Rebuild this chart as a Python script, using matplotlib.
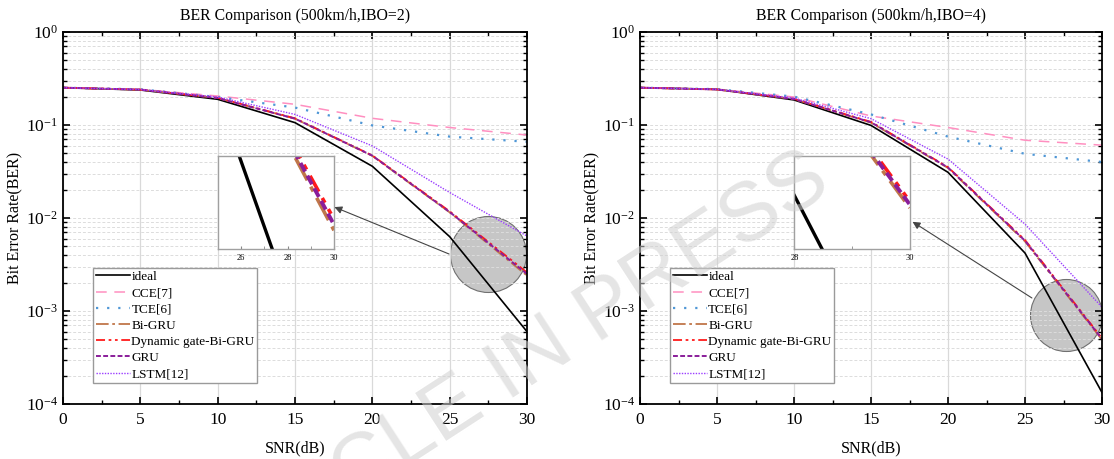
import matplotlib
matplotlib.use("Agg")
import matplotlib.pyplot as plt
from matplotlib.ticker import MultipleLocator, LogLocator, NullFormatter, NullLocator

plt.rcParams['font.family'] = ['Liberation Serif', 'DejaVu Serif']
plt.rcParams['mathtext.fontset'] = 'stix'

snr = [0, 5, 10, 15, 20, 25, 30]

# IBO = 2
ideal2 = [0.252, 0.238, 0.189, 0.106, 0.036, 0.0063, 6.0e-4]
cce2 = [0.252, 0.242, 0.205, 0.167, 0.118, 0.094, 0.078]
tce2 = [0.252, 0.242, 0.200, 0.154, 0.099, 0.075, 0.066]
bigru2 = [0.252, 0.240, 0.195, 0.117, 0.0466, 0.0115, 0.0024]
dyn2 = [0.252, 0.240, 0.196, 0.118, 0.0470, 0.0118, 0.0026]
gru2 = [0.252, 0.240, 0.195, 0.117, 0.0468, 0.0116, 0.0025]
lstm2 = [0.252, 0.241, 0.200, 0.130, 0.0596, 0.0188, 0.0064]

# IBO = 4
ideal4 = [0.252, 0.242, 0.186, 0.099, 0.031, 0.0042, 1.33e-4]
cce4 = [0.252, 0.243, 0.200, 0.125, 0.094, 0.0686, 0.0607]
tce4 = [0.252, 0.243, 0.202, 0.130, 0.075, 0.049, 0.040]
bigru4 = [0.252, 0.241, 0.190, 0.106, 0.0345, 0.0056, 4.9e-4]
dyn4 = [0.252, 0.241, 0.191, 0.108, 0.0352, 0.0058, 5.1e-4]
gru4 = [0.252, 0.241, 0.190, 0.107, 0.0349, 0.0057, 5.0e-4]
lstm4 = [0.252, 0.242, 0.195, 0.117, 0.043, 0.0086, 1.1e-3]

labels = ["ideal", "CCE[7]", "TCE[6]", "Bi-GRU", "Dynamic gate-Bi-GRU", "GRU", "LSTM[12]"]
styles = [
    dict(color="black", linestyle="-", linewidth=1.2),
    dict(color="#ff8fc0", linestyle=(0, (7, 5)), linewidth=1.1),
    dict(color="#4f97d6", linestyle=(0, (1, 4)), linewidth=1.6),
    dict(color="#c0764a", linestyle=(0, (7, 2, 1.5, 2)), linewidth=1.3),
    dict(color="#ff1a1a", linestyle=(0, (5, 2, 1.5, 2, 1.5, 2)), linewidth=1.3),
    dict(color="#8a1d9a", linestyle=(0, (2.5, 1.2)), linewidth=1.4),
    dict(color="#9b3dff", linestyle=(0, (1, 1)), linewidth=1.0),
]

panels = [
    dict(title="BER Comparison (500km/h,IBO=2)",
         series=[ideal2, cce2, tce2, bigru2, dyn2, gru2, lstm2],
         rect=[63 / 1114, 55 / 459, 464 / 1114, 372 / 459],
         inset_x=(25, 30), inset_ticks=[26, 28, 30], inset_y=(2.1e-3, 4.1e-3),
         circle=(27.5, 4.1e-3), circle_px=76,
         arrow_tip=(17.55, 0.0131), arrow_start=(24.96, 4.1e-3)),
    dict(title="BER Comparison (500km/h,IBO=4)",
         series=[ideal4, cce4, tce4, bigru4, dyn4, gru4, lstm4],
         rect=[640 / 1114, 55 / 459, 462 / 1114, 372 / 459],
         inset_x=(28, 30), inset_ticks=[28, 30], inset_y=(3.8e-4, 6.76e-4),
         circle=(27.66, 9.1e-4), circle_px=72,
         arrow_tip=(17.7, 9.1e-3), arrow_start=(25.45, 1.38e-3)),
]

fig = plt.figure(figsize=(11.14, 4.59), dpi=100)

for p in panels:
    ax = fig.add_axes(p["rect"])
    for vals, lab, st in zip(p["series"], labels, styles):
        ax.plot(snr, vals, label=lab, **st)
    ax.set_yscale("log")
    ax.set_xlim(0, 30)
    ax.set_ylim(1e-4, 1)
    ax.xaxis.set_major_locator(MultipleLocator(5))
    ax.xaxis.set_minor_locator(MultipleLocator(2.5))
    ax.yaxis.set_major_locator(LogLocator(base=10, numticks=10))
    ax.yaxis.set_minor_locator(LogLocator(base=10, subs=range(2, 10), numticks=20))
    ax.yaxis.set_minor_formatter(NullFormatter())
    ax.tick_params(which="both", direction="in", top=True, right=True, labelsize=12.5)
    ax.tick_params(axis="x", which="major", pad=6)
    ax.tick_params(which="major", length=5, width=1.2)
    ax.tick_params(which="minor", length=3, width=1.0)
    ax.grid(True, axis="x", which="major", color="#d9d9d9", linestyle="-", linewidth=0.9)
    ax.grid(True, axis="y", which="both", color="#dcdcdc", linestyle=(0, (3, 2)), linewidth=0.7)
    for s in ax.spines.values():
        s.set_linewidth(1.3)
    ax.set_title(p["title"], fontsize=11.3, pad=9)
    ax.set_xlabel("SNR(dB)", fontsize=11.5, labelpad=9)
    ax.set_ylabel("Bit Error Rate(BER)", fontsize=11.5, labelpad=2)
    leg = ax.legend(loc="upper left", bbox_to_anchor=(0.065, 0.365), fontsize=9.5,
                    frameon=True, fancybox=False, edgecolor="#9a9a9a", framealpha=1,
                    handlelength=2.6, handletextpad=0.1, labelspacing=0.3,
                    borderpad=0.2, borderaxespad=0)
    leg.get_frame().set_linewidth(1.0)

    # magnifier circle
    ax.scatter([p["circle"][0]], [p["circle"][1]], s=(p["circle_px"] * 0.72) ** 2,
               facecolor="#c6c6c6", edgecolor="#707070", linewidth=0.8, zorder=1.5)

    # inset
    ins = ax.inset_axes([0.334, 0.417, 0.25, 0.25])
    for vals, st in zip(p["series"], styles):
        st2 = dict(st)
        st2["linewidth"] = st["linewidth"] * 2.0
        ins.plot(snr, vals, **st2)
    ins.set_yscale("log")
    ins.set_xlim(*p["inset_x"])
    ins.set_ylim(*p["inset_y"])
    ins.set_xticks(p["inset_ticks"])
    ins.xaxis.set_minor_locator(MultipleLocator(1))
    ins.yaxis.set_major_locator(NullLocator())
    ins.yaxis.set_minor_locator(NullLocator())
    ins.tick_params(which="both", direction="in", labelsize=6, length=2, color="#888888")
    for s in ins.spines.values():
        s.set_color("#a0a0a0")
        s.set_linewidth(1.0)
    ins.set_facecolor("white")

    ax.annotate("", xy=p["arrow_tip"], xytext=p["arrow_start"],
                arrowprops=dict(arrowstyle="-|>", color="#444444", lw=0.8,
                                mutation_scale=11, shrinkA=0, shrinkB=0), zorder=6)

fig.text(0.45, 0.175, "ARTICLE IN PRESS", family=["Liberation Sans", "DejaVu Sans"],
         fontsize=60, color="#d0d0d0", alpha=0.55, rotation=33,
         ha="center", va="center", zorder=10)

fig.savefig("out.png", dpi=100)
